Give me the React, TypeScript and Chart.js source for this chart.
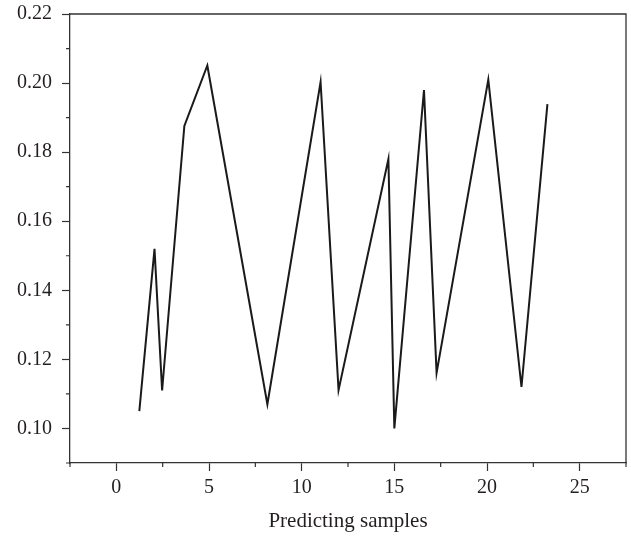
import React, { useEffect, useRef } from "react";
import { Chart, registerables } from "chart.js";

Chart.register(...registerables);

const sampleX = [1.24, 2.06, 2.47, 3.67, 4.91, 8.15, 11.02, 11.99, 14.68, 15.0, 16.6, 17.28, 20.07, 21.86, 23.26];
const sampleY = [0.105, 0.152, 0.111, 0.1876, 0.2051, 0.107, 0.2003, 0.1111, 0.178, 0.1, 0.198, 0.1161, 0.201, 0.112, 0.1939];

const xMajorTicks = [0, 5, 10, 15, 20, 25];
const xMinorTicks = [-2.5, 2.5, 7.5, 12.5, 17.5, 22.5, 27.5];
const yMajorTicks = [0.1, 0.12, 0.14, 0.16, 0.18, 0.2, 0.22];
const yMinorTicks = [0.09, 0.11, 0.13, 0.15, 0.17, 0.19, 0.21];

const xTitle = "Predicting samples";
const AXIS = "#333333";
const TEXT = "#231f20";
const FONT = "'Liberation Serif', 'Times New Roman', serif";

const framePlugin = {
  id: "frameAndMinor",
  afterDraw(chart: any) {
    const { ctx, chartArea } = chart;
    const xs = chart.scales.x;
    const ys = chart.scales.y;
    ctx.save();
    ctx.strokeStyle = AXIS;
    ctx.lineWidth = 1.3;
    ctx.beginPath();
    ctx.moveTo(chartArea.left, chartArea.top);
    ctx.lineTo(chartArea.right, chartArea.top);
    ctx.lineTo(chartArea.right, chartArea.bottom);
    ctx.stroke();
    ctx.lineWidth = 1.2;
    ctx.beginPath();
    xMinorTicks.forEach((v) => {
      const px = xs.getPixelForValue(v);
      ctx.moveTo(px, chartArea.bottom);
      ctx.lineTo(px, chartArea.bottom + 4);
    });
    yMinorTicks.forEach((v) => {
      const py = ys.getPixelForValue(v);
      ctx.moveTo(chartArea.left, py);
      ctx.lineTo(chartArea.left - 4, py);
    });
    ctx.stroke();
    ctx.restore();
  },
};

export default function App() {
  const ref = useRef<HTMLCanvasElement | null>(null);
  useEffect(() => {
    if (!ref.current) return;
    const chart = new Chart(ref.current, {
      type: "line",
      data: {
        datasets: [
          {
            data: sampleX.map((x, i) => ({ x, y: sampleY[i] })),
            borderColor: "#1a1a1a",
            borderWidth: 2,
            pointRadius: 0,
            tension: 0,
            fill: false,
          },
        ],
      },
      options: {
        animation: false,
        responsive: false,
        events: [],
        layout: { padding: { top: 14, right: 5, left: 0, bottom: 0 } },
        plugins: { legend: { display: false }, tooltip: { enabled: false } },
        scales: {
          x: {
            type: "linear",
            position: "bottom",
            min: -2.5,
            max: 27.5,
            afterBuildTicks: (scale: any) => {
              scale.ticks = xMajorTicks.map((v) => ({ value: v }));
            },
            afterFit: (scale: any) => {
              scale.height = 76;
              scale.paddingLeft = 0;
              scale.paddingRight = 0;
            },
            grid: { drawOnChartArea: false, tickLength: 8, tickColor: AXIS, tickWidth: 1.2 },
            border: { display: true, color: AXIS, width: 1.3 },
            ticks: {
              font: { family: FONT, size: 20 },
              color: TEXT,
              padding: 5,
              maxRotation: 0,
              callback: (v: any) => String(v),
            },
            title: {
              display: true,
              text: xTitle,
              font: { family: FONT, size: 21 },
              color: TEXT,
              padding: { top: 2, bottom: 5 },
            },
          },
          y: {
            type: "linear",
            min: 0.09,
            max: 0.22,
            afterBuildTicks: (scale: any) => {
              scale.ticks = yMajorTicks.map((v) => ({ value: v }));
            },
            afterFit: (scale: any) => {
              scale.width = 70;
              scale.paddingTop = 0;
              scale.paddingBottom = 0;
            },
            grid: { drawOnChartArea: false, tickLength: 8, tickColor: AXIS, tickWidth: 1.2 },
            border: { display: true, color: AXIS, width: 1.3 },
            ticks: {
              font: { family: FONT, size: 20 },
              color: TEXT,
              padding: 10,
              callback: (v: any) => Number(v).toFixed(2),
            },
          },
        },
      },
      plugins: [framePlugin],
    });
    return () => chart.destroy();
  }, []);
  return (
    <div style={{ position: "fixed", left: 0, top: 0, width: 631, height: 539, background: "#fff" }}>
      <canvas ref={ref} width={631} height={539} />
    </div>
  );
}
